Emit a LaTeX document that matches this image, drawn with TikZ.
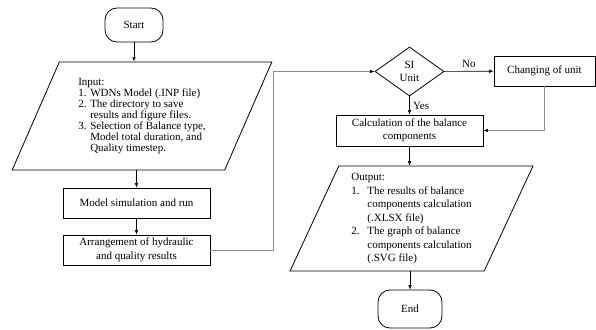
\documentclass[tikz,border=0pt]{standalone}
\usepackage{fontspec}
\setmainfont{Liberation Serif}
\usetikzlibrary{shapes.geometric,arrows.meta}

\tikzset{
  term/.style={draw,thick,rounded corners=12pt},
  proc/.style={draw,thick,minimum width=147pt,minimum height=30pt,align=center,inner sep=1pt},
  io/.style={draw,thick,trapezium,trapezium stretches=true,inner sep=1pt},
  flow/.style={-{Latex[length=4.5pt,width=3.5pt]},line width=.6pt},
  back/.style={-{Latex[length=4.5pt,width=3.5pt,color=black]},line width=.7pt,draw=black!45},
}

\begin{document}
\begin{tikzpicture}[x=1pt,y=-1pt,font=\fontsize{11}{13.5}\selectfont]
  \useasboundingbox (0,0) rectangle (596,329);

  \begin{scope}
    \node[term,minimum width=58pt,minimum height=34pt] (start) at (134,25) {Start};
    \node[io,trapezium left angle=65,trapezium right angle=115,
          minimum width=260pt,minimum height=108pt,
          font=\fontsize{11}{11}\selectfont] (input) at (142,116)
      {\begin{tabular}{@{}p{12pt}@{}l@{}}
        \multicolumn{2}{@{}l@{}}{Input:}\\
        1. & WDNs Model (.INP file)\\
        2. & The directory to save\\
           & results and figure files.\\
        3. & Selection of Balance type,\\
           & Model total duration, and\\
           & Quality timestep.
      \end{tabular}};
    \node[proc] (sim) at (136.5,203) {Model simulation and run};
    \node[proc] (arr) at (136.5,250) {Arrangement of hydraulic\\and quality results};
    \node[draw,thick,diamond,minimum width=69pt,minimum height=49pt,inner sep=0pt,
          align=center,font=\fontsize{11}{13}\selectfont] (unit) at (409.5,71.5) {SI\\Unit};
    \node[proc,minimum width=101pt] (change) at (544.5,71) {Changing of unit};
    \node[proc,minimum height=31pt,font=\fontsize{11}{13}\selectfont] (calc) at (409.5,130.5)
      {Calculation of the balance\\components};
    \node[io,trapezium left angle=67,trapezium right angle=113,
          minimum width=243pt,minimum height=105pt] (output) at (411.5,218.5)
      {\begin{tabular}{@{}p{16pt}@{}l@{}}
        \multicolumn{2}{@{}l@{}}{Output:}\\
        1. & The results of balance\\
           & components calculation\\
           & (.XLSX file)\\
        2. & The graph of balance\\
           & components calculation\\
           & (.SVG file)
      \end{tabular}};
    \node[term,minimum width=64pt,minimum height=38pt] (end) at (410,309) {End};
  \end{scope}

  \begin{scope}[every edge/.style={draw,flow}]
    \path (start) edge (start |- input.north);
    \path (sim |- input.south) edge (sim);
    \path (sim) edge (arr);
    \path (unit) edge node[above] {No} (change);
    \path (unit) edge node[right] {Yes} (calc);
    \path (calc) edge (calc |- output.north);
    \path (end |- output.south) edge (end);
  \end{scope}

  \draw[back] (arr.east) -- ++(63,0) |- (unit.west);
  \draw[back] (change.south) |- (calc.east);

\end{tikzpicture}
\end{document}
